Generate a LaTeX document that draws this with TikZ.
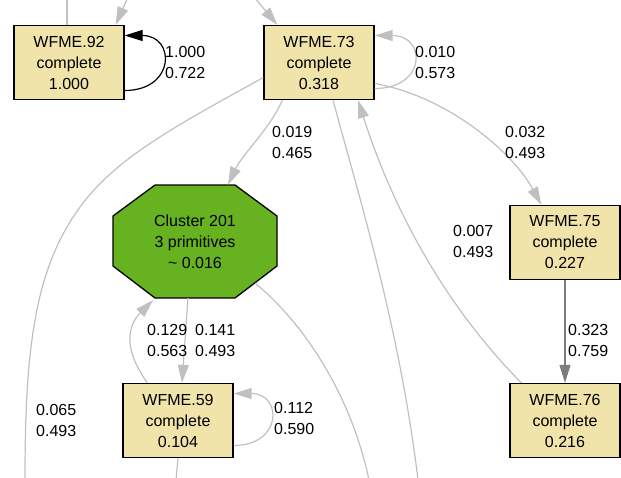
\documentclass[tikz,border=0pt]{standalone}
\usepackage{fontspec}
\setmainfont{Liberation Sans}
\usetikzlibrary{arrows.meta,calc}
\definecolor{boxfill}{RGB}{240,228,170}
\definecolor{clusterfill}{RGB}{102,178,32}
\definecolor{edgegray}{RGB}{192,192,192}
\definecolor{darkedge}{RGB}{125,125,125}

\begin{document}
\begin{tikzpicture}[x=1pt,y=-1pt,>={Triangle[length=18pt,width=11pt]}]
    \tikzstyle{StateStyle}=[shape        = rectangle,
                            fill         = boxfill,
                            draw         = black,
                            line width   = 1.3pt,
                            minimum width  = 110pt,
                            minimum height = 74pt,
                            inner sep    = 0pt,
                            align        = center,
                            font         = \fontsize{16}{21}\selectfont]
    \tikzstyle{ClusterStyle}=[shape        = rectangle,
                              minimum width  = 164pt,
                              minimum height = 113pt,
                              inner sep    = 0pt,
                              align        = center,
                              font         = \fontsize{16}{21}\selectfont]
    \tikzstyle{LabelStyle}=[anchor     = west,
                            inner sep  = 0pt,
                            align      = left,
                            font       = \fontsize{16}{21}\selectfont]
    \tikzstyle{EdgeStyle}=[draw = edgegray, line width = 1.2pt]
    \tikzstyle{DarkEdgeStyle}=[draw = darkedge, line width = 1.2pt]
    \tikzstyle{LoopBlackStyle}=[draw = black, line width = 1.2pt]
    \useasboundingbox (0,0) rectangle (621,477);
    % cluster octagon
    \filldraw[fill = clusterfill, draw = black, line width = 1.3pt]
        (155,185) -- (235,185) -- (277,216) -- (277,266) -- (235,298)
        -- (155,298) -- (113,266) -- (113,216) -- cycle;
    \node[ClusterStyle] (c201) at (195,241.5) {Cluster 201\\3 primitives\\\textasciitilde\ 0.016};
    % states
    \node[StateStyle] (w92) at (69,62.5)  {WFME.92\\complete\\1.000};
    \node[StateStyle] (w73) at (319,62.5) {WFME.73\\complete\\0.318};
    \node[StateStyle] (w75) at (565,242.5) {WFME.75\\complete\\0.227};
    \node[StateStyle] (w76) at (565,420.5) {WFME.76\\complete\\0.216};
    \node[StateStyle] (w59) at (178,420.5) {WFME.59\\complete\\0.104};
    % loose ends
    \coordinate (t92a) at (67,-3);
    \coordinate (t92b) at (128,-3);
    \coordinate (t73)  at (254,-3);
    \coordinate (b65)  at (25,480);
    \coordinate (b73)  at (418,480);
    \coordinate (b201) at (369,480);
    \coordinate (b59)  at (176,480);
    % edges
    \draw[EdgeStyle] (t92a) -- (t92a |- w92.north);
    \draw[EdgeStyle,->] (t92b) -- ($(w92.north east)+(-9,0)$);
    \draw[EdgeStyle,->] (t73) -- ($(w73.north west)+(14,0)$);
    \draw[LoopBlackStyle,->] ($(w92.east)+(0,28)$) .. controls +(51,0) and +(51,0) .. ($(w92.east)+(0,-27)$);
    \draw[EdgeStyle,->] ($(w73.east)+(0,26)$) .. controls +(52,0) and +(52,0) .. ($(w73.east)+(0,-27)$);
    \draw[EdgeStyle,->] ($(w73.south west)+(19,0)$) .. controls +(-12,28) and +(14,-30) .. ($(c201.north)+(33,0)$);
    \draw[EdgeStyle,->] ($(w73.east)+(0,21)$) .. controls +(70,12) and +(-30,-55) .. ($(w75.north west)+(32,0)$);
    \draw[EdgeStyle] ($(w73.west)+(0,15)$) .. controls (150,140) and (95,170) .. (60,240)
        .. controls (30,300) and (25,380) .. (b65);
    \draw[EdgeStyle] ($(w73.south)+(14,0)$) .. controls (360,200) and (400,330) .. (b73);
    \draw[EdgeStyle,->] ($(w76.north west)+(12,0)$) .. controls +(-82,-83) and +(32,100) .. ($(w73.south)+(39,0)$);
    \draw[EdgeStyle,->] ($(c201.south)+(-7,0)$) -- ($(w59.north)+(4,0)$);
    \draw[EdgeStyle,->] ($(w59.north west)+(25,0)$) .. controls +(-25,-35) and +(-25,25) .. ($(c201.south)+(-42,2)$);
    \draw[EdgeStyle,->] ($(w59.east)+(0,25)$) .. controls +(49,0) and +(49,0) .. ($(w59.east)+(0,-27)$);
    \draw[EdgeStyle] (w59.south) -- (b59);
    \draw[EdgeStyle] ($(c201.south east)+(-22,-15)$) .. controls (300,320) and (350,390) .. (b201);
    \draw[DarkEdgeStyle,->] (w75) -- (w76);
    % edge labels
    \node[LabelStyle] (l92)   at (165,62)    {1.000\\0.722};
    \node[LabelStyle] (l73)   at (415,62)    {0.010\\0.573};
    \node[LabelStyle] (l73c)  at (272,142.5) {0.019\\0.465};
    \node[LabelStyle] (l73w)  at (505,142.5) {0.032\\0.493};
    \node[LabelStyle] (l76)   at (453,241.5) {0.007\\0.493};
    \node[LabelStyle] (l59c)  at (147,340)   {0.129\\0.563};
    \node[LabelStyle] (lc59)  at (195,340)   {0.141\\0.493};
    \node[LabelStyle] (l59)   at (274,418)   {0.112\\0.590};
    \node[LabelStyle] (l65)   at (36,420)    {0.065\\0.493};
    \node[LabelStyle] (l75)   at (568,340)   {0.323\\0.759};
\end{tikzpicture}
\end{document}
